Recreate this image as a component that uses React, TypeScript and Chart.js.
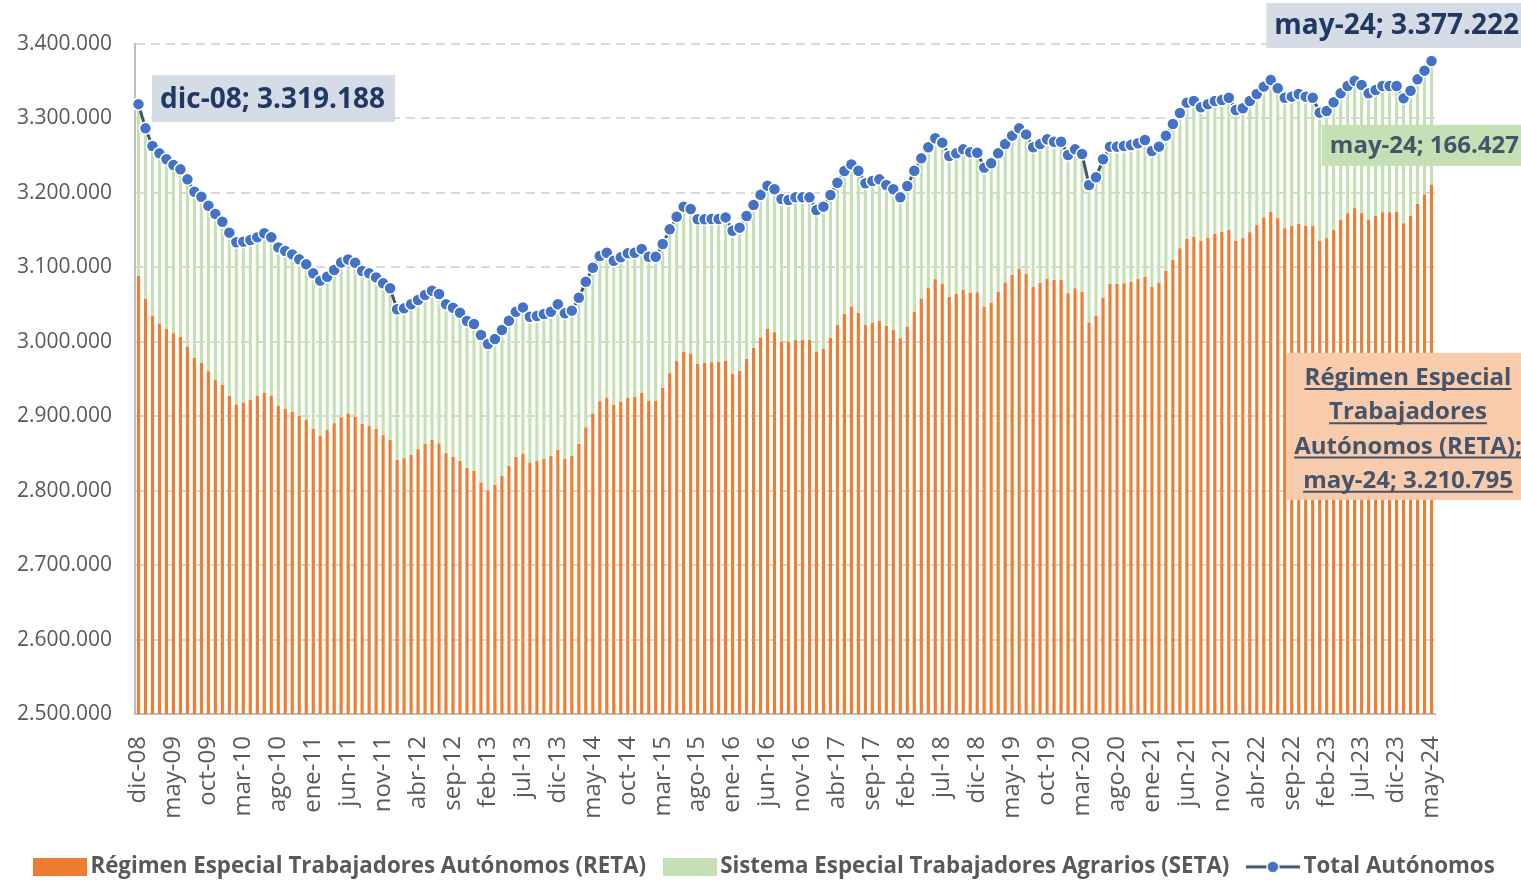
import React, { useEffect, useRef } from "react";
import { Chart, registerables } from "chart.js";

Chart.register(...registerables);

const MONTHS = ["ene", "feb", "mar", "abr", "may", "jun", "jul", "ago", "sep", "oct", "nov", "dic"];
// dic-08 ... may-24 (186 months)
const CATEGORIES: string[] = (() => {
  const out: string[] = [];
  for (let k = 0; k < 186; k++) {
    const m = (11 + k) % 12;
    const y = 8 + Math.floor((11 + k) / 12);
    out.push(`${MONTHS[m]}-${String(y).padStart(2, "0")}`);
  }
  return out;
})();

const RETA_LABEL = "Régimen Especial Trabajadores Autónomos (RETA)";
const SETA_LABEL = "Sistema Especial Trabajadores Agrarios (SETA)";
const TOTAL_LABEL = "Total Autónomos";

const RETA: number[] = [
  3088300, 3057900, 3034600, 3024700, 3017100, 3011300, 3006400, 2993400, 2978200, 2971500,
  2960300, 2948600, 2941900, 2927100, 2915900, 2917700, 2921800, 2927100, 2931600, 2927100,
  2913700, 2910100, 2905600, 2900300, 2894900, 2883200, 2873400, 2881500, 2890400, 2898700,
  2903800, 2899400, 2889500, 2886800, 2882800, 2874300, 2868000, 2841200, 2843400, 2847900,
  2855500, 2862600, 2868000, 2863500, 2850100, 2845200, 2839800, 2830400, 2826400, 2810700,
  2800000, 2807600, 2819700, 2833100, 2845200, 2849700, 2837600, 2839800, 2842500, 2846500,
  2854600, 2842500, 2846500, 2862600, 2885000, 2903800, 2920000, 2924400, 2915000, 2919500,
  2924900, 2925800, 2931200, 2920400, 2920400, 2937900, 2957600, 2974100, 2986200, 2984400,
  2970100, 2971500, 2972400, 2972800, 2974600, 2956700, 2960700, 2976800, 2991600, 3005900,
  3017100, 3012700, 3000100, 3000100, 3002400, 3002400, 3002400, 2986700, 2990300, 3005500,
  3022500, 3037300, 3047100, 3039100, 3022500, 3025600, 3027900, 3021600, 3015800, 3004600,
  3020300, 3040400, 3057900, 3071800, 3083900, 3077600, 3060600, 3064200, 3069500, 3065900,
  3066400, 3047100, 3052500, 3066800, 3079400, 3089700, 3098200, 3091000, 3074000, 3079400,
  3084800, 3083000, 3083000, 3065100, 3071800, 3066800, 3025600, 3034600, 3059200, 3077600,
  3077600, 3078500, 3080700, 3083900, 3087400, 3074000, 3079400, 3095500, 3109800, 3125500,
  3138500, 3141200, 3135400, 3139800, 3144800, 3147900, 3150100, 3135400, 3138900, 3147000,
  3156900, 3167100, 3174800, 3165800, 3152400, 3155500, 3158200, 3155500, 3155500, 3135400,
  3138900, 3150100, 3163600, 3172500, 3179200, 3172500, 3163600, 3168900, 3173900, 3173900,
  3174800, 3159100, 3169400, 3185100, 3198000, 3210795,
];

const SETA: number[] = [
  230888, 228800, 228400, 228400, 228000, 226200, 225200, 224800, 223400, 223400,
  222500, 223000, 219400, 219500, 217700, 216800, 214900, 213200, 214100, 213200,
  213100, 211800, 211800, 210400, 209100, 208700, 208700, 205900, 206000, 207800,
  206700, 206800, 205600, 205100, 203700, 204200, 203800, 202400, 201500, 202400,
  200600, 200200, 200600, 200700, 200200, 200600, 199300, 197500, 197500, 198400,
  197000, 196100, 196100, 195200, 195200, 196500, 196100, 194800, 194800, 193900,
  195700, 195700, 195300, 196600, 195700, 195700, 195200, 195300, 193900, 193900,
  193900, 193900, 193400, 193900, 193900, 193400, 193400, 193900, 195300, 193900,
  194400, 193000, 192500, 192100, 192500, 192500, 192600, 192100, 192100, 191700,
  192400, 192100, 191700, 190300, 191600, 191600, 191600, 190300, 191200, 191600,
  191200, 192100, 191200, 190700, 190300, 190400, 190300, 189000, 189000, 189400,
  188900, 189400, 188500, 189400, 189400, 189900, 188900, 188900, 189000, 188800,
  187600, 186800, 187200, 186300, 186300, 187200, 188500, 187600, 187200, 186300,
  187100, 185800, 185800, 185800, 186700, 185400, 185000, 186300, 185900, 184500,
  184500, 184500, 183600, 182700, 183600, 182300, 182700, 181400, 182700, 181800,
  182700, 182200, 179500, 179200, 178600, 176900, 177800, 175900, 174700, 176400,
  175900, 175600, 176800, 174700, 175500, 173800, 174600, 173800, 172400, 172400,
  171100, 171500, 170100, 171100, 171500, 172400, 170100, 169300, 169700, 169700,
  168800, 167900, 167900, 167400, 166200, 166427,
];

const TOTAL: number[] = [
  3319188, 3286700, 3263000, 3253100, 3245100, 3237500, 3231600, 3218200, 3201600, 3194900,
  3182800, 3171600, 3161300, 3146600, 3133600, 3134500, 3136700, 3140300, 3145700, 3140300,
  3126800, 3121900, 3117400, 3110700, 3104000, 3091900, 3082100, 3087400, 3096400, 3106500,
  3110500, 3106200, 3095100, 3091900, 3086500, 3078500, 3071800, 3043600, 3044900, 3050300,
  3056100, 3062800, 3068600, 3064200, 3050300, 3045800, 3039100, 3027900, 3023900, 3009100,
  2997000, 3003700, 3015800, 3028300, 3040400, 3046200, 3033700, 3034600, 3037300, 3040400,
  3050300, 3038200, 3041800, 3059200, 3080700, 3099500, 3115200, 3119700, 3108900, 3113400,
  3118800, 3119700, 3124600, 3114300, 3114300, 3131300, 3151000, 3168000, 3181500, 3178300,
  3164500, 3164500, 3164900, 3164900, 3167100, 3149200, 3153300, 3168900, 3183700, 3197600,
  3209500, 3204800, 3191800, 3190400, 3194000, 3194000, 3194000, 3177000, 3181500, 3197100,
  3213700, 3229400, 3238300, 3229800, 3212800, 3216000, 3218200, 3210600, 3204800, 3194000,
  3209200, 3229800, 3246400, 3261200, 3273300, 3267500, 3249500, 3253100, 3258500, 3254700,
  3254000, 3233900, 3239700, 3253100, 3265700, 3276900, 3286700, 3278600, 3261200, 3265700,
  3271900, 3268800, 3268800, 3250900, 3258500, 3252200, 3210600, 3220900, 3245100, 3262100,
  3262100, 3263000, 3264300, 3266600, 3271000, 3256300, 3262100, 3276900, 3292500, 3307300,
  3321200, 3323400, 3314900, 3319000, 3323400, 3324800, 3327900, 3311300, 3313600, 3323400,
  3332800, 3342700, 3351600, 3340500, 3327900, 3329300, 3332800, 3329300, 3327900, 3307800,
  3310000, 3321600, 3333700, 3343600, 3350700, 3344900, 3333700, 3338200, 3343600, 3343600,
  3343600, 3327000, 3337300, 3352500, 3364200, 3377222,
];

const Y_MIN = 2500000;
const Y_MAX = 3400000;
const Y_STEP = 100000;
const LABEL_EVERY = 5;

const COLORS = {
  reta: "#ed7d31",
  seta: "#c5e0b4",
  line: "#44546a",
  marker: "#4472c4",
  axisText: "#595959",
  grid: "#d9d9d9",
  axis: "#bfbfbf",
};

const FONT = '"Open Sans", "Noto Sans", sans-serif';
const W = 1521;
const H = 880;
const CHART_BOTTOM = 714;
const PAD_BOTTOM = -8;
const PAD_LEFT = 14;

function fmt(n: number): string {
  return Math.round(n)
    .toString()
    .replace(/\B(?=(\d{3})+(?!\d))/g, ".");
}

function boxIcon(color: string): HTMLCanvasElement {
  const c = document.createElement("canvas");
  c.width = 54;
  c.height = 18;
  const g = c.getContext("2d")!;
  g.fillStyle = color;
  g.fillRect(0, 0, 54, 18);
  return c;
}

function lineIcon(): HTMLCanvasElement {
  const c = document.createElement("canvas");
  c.width = 54;
  c.height = 16;
  const g = c.getContext("2d")!;
  g.strokeStyle = COLORS.line;
  g.lineWidth = 3;
  g.beginPath();
  g.moveTo(0, 8);
  g.lineTo(54, 8);
  g.stroke();
  g.beginPath();
  g.arc(27, 8, 6, 0, Math.PI * 2);
  g.fillStyle = COLORS.marker;
  g.fill();
  g.lineWidth = 1.5;
  g.strokeStyle = "#ffffff";
  g.stroke();
  return c;
}

const labelsPlugin = {
  id: "customLabels",
  afterDraw(chart: any) {
    const ctx: CanvasRenderingContext2D = chart.ctx;
    const retaMeta = chart.getDatasetMeta(0).data;
    const setaMeta = chart.getDatasetMeta(1).data;
    const lineMeta = chart.getDatasetMeta(2).data;
    const last = CATEGORIES.length - 1;
    const cw = chart.width;
    ctx.save();
    ctx.textBaseline = "middle";

    // First total label
    {
      const p = lineMeta[0];
      const text = `${CATEGORIES[0]}; ${fmt(TOTAL[0])}`;
      ctx.font = `bold 28px ${FONT}`;
      const tw = ctx.measureText(text).width;
      const x0 = p.x + 13.5;
      const cy = p.y - 5.5;
      ctx.fillStyle = "#d6dce5";
      ctx.fillRect(x0, cy - 23.5, tw + 18, 47);
      ctx.fillStyle = "#1f3864";
      ctx.textAlign = "left";
      ctx.fillText(text, x0 + 8, cy + 1);
    }

    // Last total label
    {
      const p = lineMeta[last];
      const text = `${CATEGORIES[last]}; ${fmt(TOTAL[last])}`;
      ctx.font = `bold 28px ${FONT}`;
      const tw = ctx.measureText(text).width;
      const tr = cw - 2;
      const cy = p.y - 35.5;
      ctx.fillStyle = "#d6dce5";
      ctx.fillRect(tr - tw - 8, cy - 22.5, tw + 20, 45);
      ctx.fillStyle = "#1f3864";
      ctx.textAlign = "right";
      ctx.fillText(text, tr, cy + 1);
    }

    // SETA label
    {
      const b = setaMeta[last];
      const text = `${CATEGORIES[last]}; ${fmt(SETA[last])}`;
      ctx.font = `bold 24px ${FONT}`;
      const tw = ctx.measureText(text).width;
      const tr = cw - 2;
      const cy = b.base - 39.5;
      ctx.fillStyle = "#c5e0b4";
      ctx.fillRect(tr - tw - 8, cy - 20.5, tw + 20, 41);
      ctx.fillStyle = "#44546a";
      ctx.textAlign = "right";
      ctx.fillText(text, tr, cy + 1);
    }

    // RETA label
    {
      const b = retaMeta[last];
      const lines = ["Régimen Especial", "Trabajadores", "Autónomos (RETA);", `${CATEGORIES[last]}; ${fmt(RETA[last])}`];
      ctx.font = `bold 24px ${FONT}`;
      const maxW = Math.max(...lines.map((l) => ctx.measureText(l).width));
      const cx = chart.chartArea.right - 27;
      const cy = b.y + 241.5;
      ctx.fillStyle = "#f8cbad";
      ctx.fillRect(cx - maxW / 2 - 8, cy - 73.5, maxW + 40, 147);
      ctx.fillStyle = "#44546a";
      ctx.strokeStyle = "#44546a";
      ctx.lineWidth = 2;
      ctx.textAlign = "center";
      ctx.textBaseline = "alphabetic";
      lines.forEach((l, j) => {
        const ly = cy + 1 + (j - 1.5) * 34.3;
        const base = ly + 9;
        ctx.fillText(l, cx, base);
        const lw = ctx.measureText(l).width;
        ctx.beginPath();
        ctx.moveTo(cx - lw / 2, base + 4);
        ctx.lineTo(cx + lw / 2, base + 4);
        ctx.stroke();
      });
    }
    ctx.restore();
  },
};

export default function App() {
  const ref = useRef<HTMLCanvasElement>(null);

  useEffect(() => {
    document.body.style.margin = "0";
    document.body.style.overflow = "hidden";
    const canvas = ref.current!;
    const icons = [boxIcon(COLORS.reta), boxIcon(COLORS.seta), lineIcon()];
    const chart = new Chart(canvas, {
      type: "bar",
      data: {
        labels: CATEGORIES,
        datasets: [
          {
            type: "bar",
            label: RETA_LABEL,
            data: RETA,
            backgroundColor: COLORS.reta,
            stack: "bars",
            order: 1,
            barPercentage: 0.45,
            categoryPercentage: 1,
          },
          {
            type: "bar",
            label: SETA_LABEL,
            data: SETA,
            backgroundColor: COLORS.seta,
            stack: "bars",
            order: 1,
            barPercentage: 0.45,
            categoryPercentage: 1,
          },
          {
            type: "line",
            label: TOTAL_LABEL,
            data: TOTAL,
            stack: "total",
            order: 0,
            borderColor: COLORS.line,
            borderWidth: 3,
            pointRadius: 6,
            pointBackgroundColor: COLORS.marker,
            pointBorderColor: "#ffffff",
            pointBorderWidth: 1.5,
            tension: 0,
          } as any,
        ],
      },
      options: {
        responsive: false,
        animation: false,
        devicePixelRatio: 1,
        layout: { padding: { left: PAD_LEFT, right: 0, top: 44, bottom: PAD_BOTTOM } },
        plugins: {
          tooltip: { enabled: false },
          legend: {
            position: "bottom",
            labels: {
              usePointStyle: true,
              pointStyleWidth: 39,
              padding: 24,
              color: COLORS.axisText,
              font: { family: FONT, size: 22.3, weight: "bold" },
              generateLabels: () =>
                [RETA_LABEL, SETA_LABEL, TOTAL_LABEL].map((t, i) => ({
                  text: t,
                  fillStyle: "transparent",
                  strokeStyle: "transparent",
                  lineWidth: 0,
                  pointStyle: icons[i] as any,
                  hidden: false,
                  datasetIndex: i,
                  fontColor: COLORS.axisText,
                })),
            },
          },
        },
        scales: {
          x: {
            stacked: true,
            grid: { display: false, drawTicks: false },
            border: { display: true, color: COLORS.axis, width: 2 },
            ticks: {
              autoSkip: false,
              minRotation: 90,
              maxRotation: 90,
              padding: 22,
              color: COLORS.axisText,
              font: { family: FONT, size: 24 },
              callback: (_v: any, i: number) => (i % LABEL_EVERY === 0 ? CATEGORIES[i] : ""),
            },
            afterFit: (s: any) => {
              const lg = s.chart.legend;
              const lh = lg && lg.height ? lg.height : 56;
              s.height = H - PAD_BOTTOM - lh - CHART_BOTTOM;
            },
          },
          y: {
            stacked: true,
            min: Y_MIN,
            max: Y_MAX,
            ticks: {
              stepSize: Y_STEP,
              padding: 23,
              color: COLORS.axisText,
              font: { family: FONT, size: 21 },
              callback: (v: any) => fmt(Number(v)),
            },
            grid: { color: COLORS.grid, lineWidth: 2, drawTicks: false },
            border: { display: true, color: COLORS.axis, width: 2, dash: [9, 6] },
            afterFit: (s: any) => {
              s.width = 135 - PAD_LEFT;
            },
          },
          yRightSpace: {
            position: "right",
            display: true,
            grid: { display: false, drawTicks: false },
            border: { display: false },
            ticks: { display: false },
            afterFit: (s: any) => {
              s.width = 86;
            },
          },
        },
      },
      plugins: [labelsPlugin],
    });
    return () => chart.destroy();
  }, []);

  return (
    <div style={{ width: W, height: H, overflow: "hidden" }}>
      <canvas ref={ref} width={W} height={H} style={{ display: "block", width: W, height: H }} />
    </div>
  );
}
